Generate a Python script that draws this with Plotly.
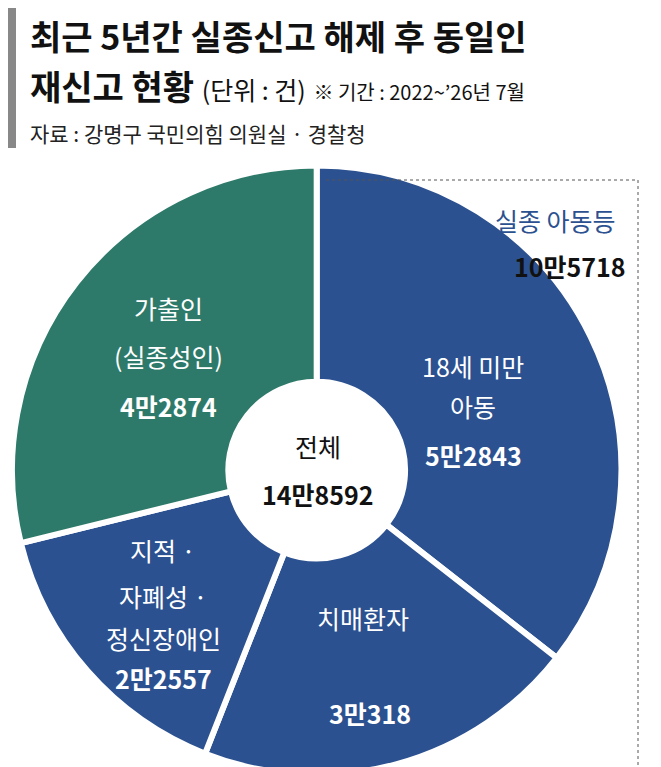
import plotly.graph_objects as go

labels = ["18세 미만 아동", "치매환자", "지적·자폐성·정신장애인", "가출인(실종성인)"]
values = [52843, 30318, 22557, 42874]
colors = ["#2c5190", "#2c5190", "#2c5190", "#2e7a6a"]

W, H = 661, 767
def px(x): return x / W
def py(y): return 1 - y / H

fig = go.Figure(go.Pie(
    labels=labels, values=values, sort=False, direction="clockwise", rotation=0,
    hole=0.29, marker=dict(colors=colors, line=dict(color="white", width=6)),
    textinfo="none", hoverinfo="skip", showlegend=False,
    domain=dict(x=[0.006, 0.928], y=[0.0, 0.795]),
))

F = "Noto Sans CJK KR"
ann = []
def A(x, y, t, size, color="white", xa="center", bold=False):
    if bold: t = "<b>" + t + "</b>"
    ann.append(dict(x=px(x), y=py(y), xref="paper", yref="paper", text=t, showarrow=False,
                    xanchor=xa, yanchor="middle", font=dict(family=F, size=size, color=color)))

A(20, 28, "최근 5년간 실종신고 해제 후 동일인", 34, "#111", "left", True)
A(20, 78, "<b>재신고 현황</b> <span style='font-size:25px'>(단위 : 건)</span> <span style='font-size:20px'>※ 기간 : 2022~’26년 7월</span>", 34, "#111", "left")
A(20, 125, "자료 : 강명구 국민의힘 의원실 · 경찰청", 21, "#222", "left")

A(160, 300, "가출인", 25)
A(160, 348, "(실종성인)", 25)
A(160, 398, "4만2874", 25, bold=True)
A(465, 358, "18세 미만", 25)
A(465, 398, "아동", 25)
A(465, 447, "5만2843", 25, bold=True)
A(355, 610, "치매환자", 25)
A(362, 705, "3만318", 25, bold=True)
A(155, 542, "지적 ·", 25)
A(155, 588, "자폐성 ·", 25)
A(155, 630, "정신장애인", 25)
A(155, 670, "2만2557", 25, bold=True)
A(310, 438, "전체", 25, "#111")
A(310, 486, "14만8592", 25, "#111", bold=True)
A(610, 212, "실종 아동등", 25, "#2c5190", "right")
A(620, 258, "10만5718", 25, "#111", "right", bold=True)

fig.update_layout(
    width=W, height=H, margin=dict(l=0, r=0, t=0, b=0),
    paper_bgcolor="white", plot_bgcolor="white", annotations=ann,
    shapes=[
        dict(type="rect", xref="paper", yref="paper", x0=0, x1=px(8), y0=py(140), y1=1,
             fillcolor="#888", line=dict(width=0)),
        dict(type="path", xref="paper", yref="paper",
             path=f"M {px(318)} {py(172)} L {px(630)} {py(172)} L {px(630)} {py(762)} L {px(318)} {py(762)}",
             line=dict(color="#555", width=1, dash="dot")),
    ],
)
fig.write_html("out.html")
